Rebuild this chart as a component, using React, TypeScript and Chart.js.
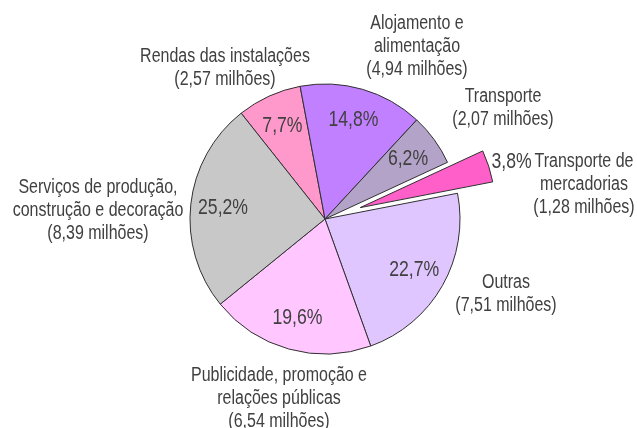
import React, { useEffect, useRef } from "react";
import { Chart, registerables } from "chart.js";

Chart.register(...registerables);

// ---- data ----
const categories = [
  "Rendas das instalações",
  "Alojamento e alimentação",
  "Transporte",
  "Transporte de mercadorias",
  "Outras",
  "Publicidade, promoção e relações públicas",
  "Serviços de produção, construção e decoração",
];
const valuesMillions = [2.57, 4.94, 2.07, 1.28, 7.51, 6.54, 8.39];
const percentLabels = ["7,7%", "14,8%", "6,2%", "3,8%", "22,7%", "19,6%", "25,2%"];
const amountLabels = [
  "(2,57 milhões)",
  "(4,94 milhões)",
  "(2,07 milhões)",
  "(1,28 milhões)",
  "(7,51 milhões)",
  "(6,54 milhões)",
  "(8,39 milhões)",
];
const nameLines = [
  ["Rendas das instalações"],
  ["Alojamento e", "alimentação"],
  ["Transporte"],
  ["Transporte de", "mercadorias"],
  ["Outras"],
  ["Publicidade, promoção e", "relações públicas"],
  ["Serviços de produção,", "construção e decoração"],
];
const explodedIndex = 3;

// ---- styles / layout ----
const sliceColors = ["#FF99CC", "#C080FF", "#B3A3C8", "#FF5FC8", "#E0C6FF", "#FFC6FF", "#C8C8C8"];
const BORDER = "#303030";
const TEXT = "#404040";
const EXPLODE = 37;
const RADIUS = 135;
const NAME_FONT = "19.5px 'Liberation Sans', Arial, sans-serif";
const PCT_FONT = "21.5px 'Liberation Sans', Arial, sans-serif";
const NARROW = 0.82;
const LINE_H = 23;
// outside label anchors (centre x, first-line y) relative to pie centre
const labelOffsets: [number, number][] = [
  [-100, -162],
  [92, -195],
  [178, -122],
  [259, -57],
  [181, 64],
  [-46, 157],
  [-227, -31],
];

function narrowText(ctx: CanvasRenderingContext2D, t: string, x: number, y: number, align: CanvasTextAlign) {
  ctx.save();
  ctx.translate(x, y);
  ctx.scale(NARROW, 1);
  ctx.textAlign = align;
  ctx.fillText(t, 0, 0);
  ctx.restore();
}

const labelPlugin = {
  id: "pieLabels",
  afterDatasetsDraw(chart: any) {
    const ctx: CanvasRenderingContext2D = chart.ctx;
    const meta = chart.getDatasetMeta(0);
    const arcs = meta.data as any[];
    const first = arcs[0].getProps(["x", "y"], true);
    const cx = first.x;
    const cy = first.y;

    // exploded slice
    const ex = arcs[explodedIndex].getProps(["startAngle", "endAngle", "outerRadius"], true);
    const emid = (ex.startAngle + ex.endAngle) / 2;
    const ox = cx + Math.cos(emid) * EXPLODE;
    const oy = cy + Math.sin(emid) * EXPLODE;
    ctx.save();
    ctx.beginPath();
    ctx.moveTo(ox, oy);
    ctx.arc(ox, oy, ex.outerRadius, ex.startAngle, ex.endAngle);
    ctx.closePath();
    ctx.fillStyle = sliceColors[explodedIndex];
    ctx.fill();
    ctx.lineWidth = 1;
    ctx.strokeStyle = BORDER;
    ctx.stroke();
    ctx.restore();

    ctx.save();
    ctx.fillStyle = TEXT;
    ctx.textBaseline = "middle";

    // percentages
    ctx.font = PCT_FONT;
    arcs.forEach((arc, i) => {
      const p = arc.getProps(["startAngle", "endAngle", "outerRadius"], true);
      const mid = (p.startAngle + p.endAngle) / 2;
      if (i === explodedIndex) {
        const d = EXPLODE + p.outerRadius + 3;
        narrowText(ctx, percentLabels[i], cx + Math.cos(mid) * d, cy + Math.sin(mid) * d - 3, "left");
      } else {
        const d = p.outerRadius * 0.76;
        narrowText(ctx, percentLabels[i], cx + Math.cos(mid) * d, cy + Math.sin(mid) * d, "center");
      }
    });

    // category names
    ctx.font = NAME_FONT;
    categories.forEach((_, i) => {
      const [dx, dy] = labelOffsets[i];
      const lines = [...nameLines[i], amountLabels[i]];
      lines.forEach((t, k) => {
        narrowText(ctx, t, cx + dx, cy + dy + k * LINE_H, "center");
      });
    });
    ctx.restore();
  },
};

export default function App() {
  const ref = useRef<HTMLCanvasElement | null>(null);
  useEffect(() => {
    if (!ref.current) return;
    const chart = new Chart(ref.current, {
      type: "pie",
      data: {
        labels: categories,
        datasets: [
          {
            data: valuesMillions,
            backgroundColor: sliceColors.map((c, i) => (i === explodedIndex ? "rgba(0,0,0,0)" : c)),
            borderColor: sliceColors.map((_, i) => (i === explodedIndex ? "rgba(0,0,0,0)" : BORDER)),
            borderWidth: sliceColors.map((_, i) => (i === explodedIndex ? 0 : 1)),
          },
        ],
      },
      options: {
        animation: false,
        responsive: false,
        maintainAspectRatio: false,
        rotation: -38.4,
        radius: RADIUS,
        layout: { padding: { left: 13, top: 10, right: 0, bottom: 0 } },
        plugins: {
          legend: { display: false },
          tooltip: { enabled: false },
        },
      } as any,
      plugins: [labelPlugin],
    });
    return () => chart.destroy();
  }, []);
  return (
    <div style={{ position: "fixed", left: 0, top: 0, width: 637, height: 428, background: "#fff" }}>
      <canvas ref={ref} width={637} height={428} />
    </div>
  );
}
